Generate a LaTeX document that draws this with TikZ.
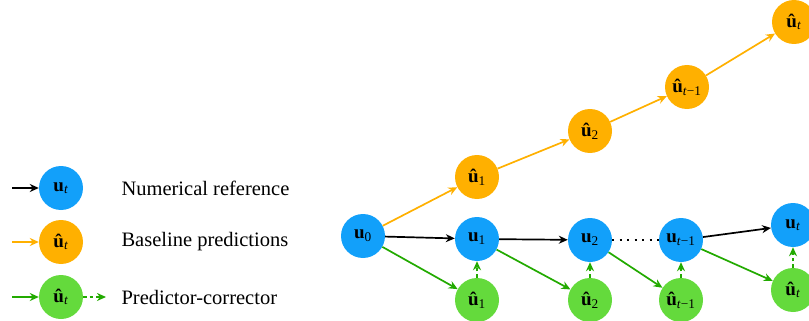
\documentclass[tikz,border=0pt]{standalone}
\usepackage{fontspec}
\setmainfont{Liberation Serif}
\usetikzlibrary{arrows.meta}
\definecolor{refblue}{RGB}{18,160,250}
\definecolor{baseorange}{RGB}{255,176,0}
\definecolor{pcgreen}{RGB}{100,218,60}
\definecolor{pcline}{RGB}{34,170,0}
\newcommand{\vu}[1]{\textbf{u}\textsubscript{#1}}
\newcommand{\vhu}[1]{\textbf{û}\textsubscript{#1}}

\begin{document}
\begin{tikzpicture}
[x=1pt,y=-1pt,
dot/.style={circle,minimum size=44pt,inner sep=0pt,font=\fontsize{19}{19}\selectfont},
refdot/.style={dot,fill=refblue},
basedot/.style={dot,fill=baseorange},
pcdot/.style={dot,fill=pcgreen},
>={Stealth[length=9pt,width=8pt]},
refarr/.style={->,line width=1.7pt,black},
basearr/.style={->,line width=1.7pt,baseorange},
pcarr/.style={->,line width=1.7pt,pcline},
corrarr/.style={pcarr,dash pattern=on 3.5pt off 3pt},
legend/.style={anchor=west,font=\fontsize{20.5}{24}\selectfont}]
\useasboundingbox (0,0) rectangle (809,321);
% legend
\node[refdot] (k1) at (61,188) {\vu{\textit{t}}};
\node[basedot] (k2) at (61,242) {\vhu{\textit{t}}};
\node[pcdot] (k3) at (61,297) {\vhu{\textit{t}}};
\coordinate (l1) at (12,188);
\coordinate (l2) at (12,242);
\coordinate (l3) at (12,297);
\coordinate (l3e) at (106,297);
\draw[refarr] (l1) -- (k1);
\draw[basearr] (l2) -- (k2);
\draw[pcarr] (l3) -- (k3);
\draw[corrarr] (k3) -- (l3e);
\node[legend] (n1) at (118,188) {Numerical reference};
\node[legend] (n2) at (118,242) {Baseline predictions};
\node[legend] (n3) at (118,297) {Predictor-corrector};
% numerical reference
\node[refdot] (u0) at (363,236) {\vu{0}};
\node[refdot] (u1) at (477,239) {\vu{1}};
\node[refdot] (u2) at (590,240) {\vu{2}};
\node[refdot] (ut1) at (681,240) {\vu{\textit{t}−1}};
\node[refdot] (ut) at (793,225) {\vu{\textit{t}}};
% baseline
\node[basedot] (b1) at (477,177) {\vhu{1}};
\node[basedot] (b2) at (590,131) {\vhu{2}};
\node[basedot] (bt1) at (687,87) {\vhu{\textit{t}−1}};
\node[basedot] (bt) at (794,22) {\vhu{\textit{t}}};
% predictor-corrector
\node[pcdot] (p1) at (477,300) {\vhu{1}};
\node[pcdot] (p2) at (590,300) {\vhu{2}};
\node[pcdot] (pt1) at (681,300) {\vhu{\textit{t}−1}};
\node[pcdot] (pt) at (793,290) {\vhu{\textit{t}}};
\path[refarr] (u0) edge (u1)
(u1) edge (u2)
(ut1) edge (ut);
\draw[line width=1.7pt,dash pattern=on 2pt off 5.5pt] (u2) -- (ut1);
\path[basearr] (u0) edge (b1)
(b1) edge (b2)
(b2) edge (bt1)
(bt1) edge (bt);
\path[pcarr] (u0) edge (p1)
(u1) edge (p2)
(u2) edge (pt1)
(ut1) edge (pt);
\path[corrarr] (p1) edge (u1)
(p2) edge (u2)
(pt1) edge (ut1)
(pt) edge (ut);
\end{tikzpicture}
\end{document}
